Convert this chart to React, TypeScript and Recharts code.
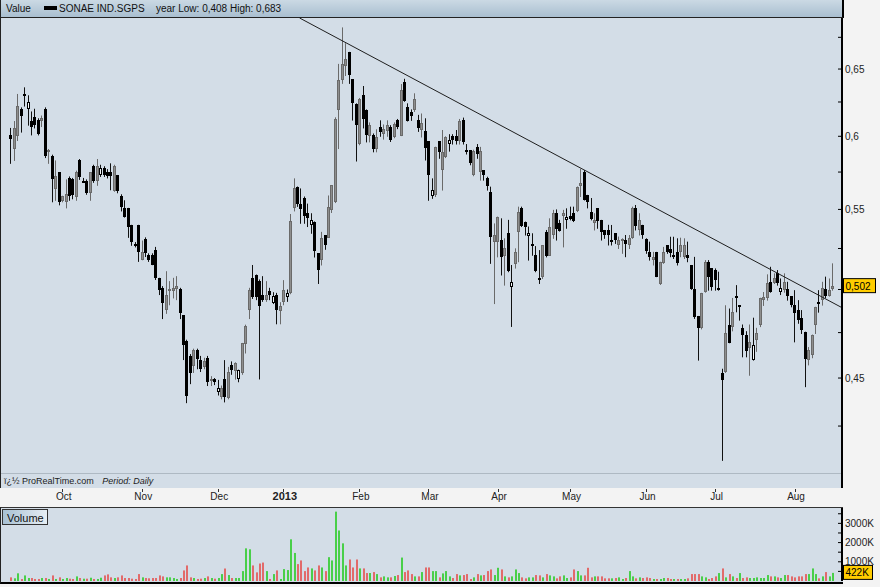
import { Bar, ComposedChart, ReferenceLine, XAxis, YAxis } from "recharts";

// open, high, low, close, volume (thousands)
type Candle = [number, number, number, number, number];

const sep2012: Candle[] = [
  [0.601, 0.606, 0.581, 0.598, 190], [0.591, 0.611, 0.583, 0.606, 140], [0.6, 0.631, 0.597, 0.622, 400],
  [0.62, 0.621, 0.603, 0.615, 100], [0.631, 0.636, 0.622, 0.631, 290], [0.62, 0.63, 0.608, 0.625, 155],
  [0.611, 0.618, 0.601, 0.607, 155], [0.614, 0.62, 0.606, 0.608, 105], [0.612, 0.613, 0.601, 0.602, 105],
  [0.611, 0.615, 0.607, 0.613, 155], [0.62, 0.621, 0.585, 0.586, 155], [0.589, 0.591, 0.581, 0.59, 105],
  [0.586, 0.587, 0.555, 0.57, 290], [0.563, 0.583, 0.556, 0.572, 105], [0.575, 0.575, 0.553, 0.555, 190],
];
const oct2012: Candle[] = [
  [0.556, 0.559, 0.555, 0.559, 105], [0.555, 0.57, 0.551, 0.56, 155], [0.571, 0.572, 0.556, 0.559, 120],
  [0.57, 0.571, 0.557, 0.559, 105], [0.558, 0.576, 0.556, 0.575, 240], [0.583, 0.584, 0.57, 0.571, 155],
  [0.569, 0.571, 0.568, 0.569, 120], [0.569, 0.57, 0.56, 0.561, 120], [0.561, 0.575, 0.556, 0.575, 170],
  [0.579, 0.58, 0.568, 0.569, 105], [0.569, 0.584, 0.566, 0.579, 105], [0.573, 0.58, 0.572, 0.578, 170],
  [0.578, 0.579, 0.572, 0.573, 290], [0.575, 0.577, 0.571, 0.572, 345], [0.575, 0.581, 0.563, 0.572, 190],
  [0.562, 0.58, 0.562, 0.579, 155], [0.573, 0.573, 0.561, 0.562, 190], [0.559, 0.56, 0.549, 0.552, 290],
  [0.551, 0.556, 0.545, 0.545, 155], [0.551, 0.551, 0.532, 0.539, 155], [0.54, 0.54, 0.527, 0.529, 120],
  [0.528, 0.529, 0.526, 0.527, 105], [0.54, 0.54, 0.517, 0.523, 360],
];
const nov2012: Candle[] = [
  [0.518, 0.53, 0.518, 0.523, 190], [0.531, 0.532, 0.52, 0.522, 155], [0.521, 0.522, 0.517, 0.518, 140],
  [0.521, 0.522, 0.515, 0.515, 155], [0.524, 0.526, 0.506, 0.507, 155], [0.507, 0.507, 0.497, 0.5, 290],
  [0.501, 0.502, 0.483, 0.492, 240], [0.488, 0.511, 0.486, 0.497, 190], [0.4995, 0.505, 0.491, 0.5, 190],
  [0.499, 0.507, 0.495, 0.501, 155], [0.5, 0.508, 0.494, 0.502, 105], [0.5, 0.501, 0.483, 0.486, 155],
  [0.485, 0.485, 0.46, 0.468, 550], [0.47, 0.471, 0.437, 0.44, 810], [0.462, 0.463, 0.447, 0.453, 190],
  [0.456, 0.466, 0.453, 0.465, 155], [0.465, 0.466, 0.455, 0.46, 105], [0.46, 0.462, 0.4535, 0.455, 120],
  [0.456, 0.461, 0.455, 0.459, 155], [0.461, 0.462, 0.446, 0.448, 240], [0.4485, 0.451, 0.446, 0.4495, 155],
  [0.4495, 0.45, 0.4465, 0.448, 120],
];
const dec2012: Candle[] = [
  [0.4425, 0.449, 0.441, 0.4445, 155], [0.44, 0.446, 0.439, 0.4445, 360], [0.4497, 0.4597, 0.4374, 0.4401, 650],
  [0.4394, 0.456, 0.439, 0.4534, 310], [0.457, 0.459, 0.452, 0.4543, 155], [0.4534, 0.4585, 0.4494, 0.458, 155],
  [0.4497, 0.4545, 0.448, 0.4543, 155], [0.4525, 0.4692, 0.452, 0.469, 515], [0.469, 0.4795, 0.4636, 0.479, 1700],
  [0.4879, 0.501, 0.483, 0.4996, 1650], [0.5067, 0.5148, 0.4947, 0.4951, 810], [0.509, 0.509, 0.494, 0.496, 450],
  [0.505, 0.506, 0.4495, 0.49, 910], [0.497, 0.508, 0.493, 0.494, 960], [0.4935, 0.505, 0.493, 0.4966, 515],
  [0.499, 0.501, 0.494, 0.4967, 105], [0.492, 0.4984, 0.4917, 0.496, 360], [0.497, 0.498, 0.48, 0.488, 550],
  [0.4875, 0.4925, 0.48, 0.4905, 105],
];
const jan2013: Candle[] = [
  [0.4927, 0.5056, 0.491, 0.4996, 620], [0.4951, 0.5, 0.493, 0.4977, 570], [0.4977, 0.547, 0.4975, 0.5422, 2170],
  [0.5508, 0.5707, 0.549, 0.5639, 1460], [0.565, 0.5652, 0.552, 0.554, 880], [0.5538, 0.5639, 0.541, 0.5508, 1070],
  [0.5573, 0.5585, 0.541, 0.5453, 515], [0.5475, 0.5538, 0.5389, 0.5442, 705], [0.54, 0.5475, 0.5346, 0.5432, 655],
  [0.5421, 0.5422, 0.5197, 0.524, 550], [0.522, 0.522, 0.5036, 0.5117, 810], [0.5178, 0.5355, 0.5148, 0.5314, 705],
  [0.5335, 0.5335, 0.5245, 0.5272, 515], [0.532, 0.5592, 0.532, 0.5518, 1240], [0.5496, 0.5661, 0.548, 0.5661, 1070],
  [0.5551, 0.6137, 0.5545, 0.6128, 3610], [0.6188, 0.654, 0.5913, 0.6416, 2630], [0.6416, 0.683, 0.639, 0.6539, 1960],
  [0.6527, 0.6703, 0.645, 0.658, 810], [0.6634, 0.6634, 0.639, 0.6454, 1120], [0.642, 0.642, 0.6117, 0.6238, 705],
  [0.6238, 0.624, 0.5826, 0.6085, 1120],
];
const feb2013: Candle[] = [
  [0.594, 0.628, 0.594, 0.627, 655], [0.63, 0.637, 0.606, 0.612, 655], [0.619, 0.6195, 0.596, 0.601, 415],
  [0.6, 0.61, 0.596, 0.608, 415], [0.601, 0.602, 0.589, 0.591, 465], [0.591, 0.605, 0.589, 0.5995, 360],
  [0.607, 0.6115, 0.6, 0.6035, 190], [0.6015, 0.6085, 0.598, 0.605, 240], [0.6035, 0.6115, 0.6, 0.608, 190],
  [0.607, 0.608, 0.5963, 0.5975, 190], [0.6, 0.61, 0.599, 0.609, 260], [0.6115, 0.6125, 0.6055, 0.6065, 310],
  [0.6005, 0.6385, 0.6005, 0.6343, 1220], [0.64, 0.6425, 0.6255, 0.6255, 465], [0.6215, 0.624, 0.611, 0.611, 550],
  [0.6175, 0.6195, 0.6115, 0.6145, 360], [0.6195, 0.6315, 0.618, 0.6275, 240], [0.612, 0.6155, 0.6035, 0.6065, 240],
  [0.6045, 0.6165, 0.5995, 0.6095, 465], [0.604, 0.613, 0.5833, 0.5917, 705],
];
const mar2013: Candle[] = [
  [0.5965, 0.5965, 0.556, 0.5729, 705], [0.5585, 0.5707, 0.5573, 0.5628, 515], [0.5595, 0.5926, 0.5585, 0.5926, 515],
  [0.5965, 0.5965, 0.5845, 0.589, 190], [0.5764, 0.6045, 0.5628, 0.589, 396], [0.5856, 0.6, 0.585, 0.5995, 516],
  [0.5946, 0.6015, 0.5895, 0.5973, 241], [0.6, 0.6015, 0.5945, 0.597, 155], [0.6, 0.6045, 0.5945, 0.5961, 361],
  [0.5961, 0.6125, 0.5945, 0.6108, 292], [0.612, 0.6135, 0.5945, 0.5961, 310], [0.5905, 0.5945, 0.5875, 0.5895, 361],
  [0.5903, 0.5903, 0.58, 0.5812, 103], [0.573, 0.5905, 0.5725, 0.5895, 189], [0.5926, 0.5945, 0.5845, 0.5879, 361],
  [0.5752, 0.5925, 0.5695, 0.5895, 292], [0.5764, 0.5764, 0.5695, 0.573, 310], [0.5707, 0.5718, 0.5628, 0.565, 516],
  [0.5617, 0.5651, 0.5158, 0.5324, 602], [0.5292, 0.5409, 0.4917, 0.5335, 310],
];
const apr2013: Candle[] = [
  [0.5292, 0.5453, 0.5198, 0.5453, 688], [0.5303, 0.5442, 0.5087, 0.5199, 602], [0.52, 0.5314, 0.5026, 0.5251, 241],
  [0.5346, 0.5432, 0.5107, 0.5107, 189], [0.5016, 0.5148, 0.4785, 0.5046, 241], [0.5158, 0.5251, 0.5129, 0.523, 602],
  [0.5356, 0.5518, 0.5168, 0.5486, 413], [0.5507, 0.5518, 0.5389, 0.5389, 189], [0.5421, 0.5421, 0.5335, 0.5389, 138],
  [0.5324, 0.5389, 0.5178, 0.5346, 189], [0.527, 0.5346, 0.5208, 0.5277, 189], [0.5208, 0.5265, 0.5107, 0.5107, 310],
  [0.507, 0.524, 0.5036, 0.5066, 292], [0.5077, 0.5271, 0.5066, 0.5271, 189], [0.5356, 0.5367, 0.5198, 0.5208, 361],
  [0.5208, 0.5442, 0.5208, 0.5389, 292], [0.5335, 0.5497, 0.5314, 0.5475, 241], [0.5475, 0.55, 0.5303, 0.537, 138],
  [0.541, 0.5432, 0.536, 0.536, 241], [0.5453, 0.5497, 0.526, 0.5475, 292], [0.5432, 0.5507, 0.5378, 0.5453, 155],
];
const may2013: Candle[] = [
  [0.546, 0.5518, 0.5432, 0.544, 189], [0.5475, 0.5518, 0.5421, 0.5421, 602], [0.5496, 0.5652, 0.5486, 0.5652, 516],
  [0.5652, 0.5772, 0.5585, 0.5675, 292], [0.5752, 0.5764, 0.5562, 0.5562, 292], [0.5596, 0.5596, 0.551, 0.5549, 688],
  [0.548, 0.5575, 0.5432, 0.5432, 189], [0.5411, 0.5475, 0.5367, 0.5432, 241], [0.5507, 0.5507, 0.5378, 0.5421, 241],
  [0.5432, 0.5432, 0.5303, 0.5357, 241], [0.5367, 0.5367, 0.5314, 0.5335, 138], [0.5367, 0.54, 0.5272, 0.5335, 138],
  [0.5296, 0.5399, 0.5272, 0.5303, 138], [0.5346, 0.5346, 0.5282, 0.5303, 155], [0.5272, 0.5325, 0.525, 0.5303, 189],
  [0.5296, 0.5314, 0.522, 0.531, 103], [0.5303, 0.5335, 0.5199, 0.528, 155], [0.5272, 0.5335, 0.525, 0.5314, 516],
  [0.5314, 0.5518, 0.5314, 0.5507, 241], [0.5507, 0.5529, 0.5367, 0.5389, 138], [0.5367, 0.5475, 0.5335, 0.5432, 189],
  [0.54, 0.54, 0.5314, 0.5335, 155],
];
const jun2013: Candle[] = [
  [0.5307, 0.5314, 0.522, 0.5229, 189], [0.5229, 0.5293, 0.5178, 0.5198, 155], [0.5178, 0.5229, 0.5148, 0.5198, 103],
  [0.5229, 0.5229, 0.5077, 0.5077, 103], [0.5036, 0.5168, 0.503, 0.5168, 103], [0.5158, 0.526, 0.5158, 0.5229, 155],
  [0.527, 0.527, 0.522, 0.5229, 155], [0.5244, 0.5324, 0.5199, 0.5218, 103], [0.5198, 0.5324, 0.5188, 0.5208, 103],
  [0.5229, 0.5314, 0.5148, 0.5158, 103], [0.5229, 0.5318, 0.5199, 0.527, 103], [0.5198, 0.5314, 0.5188, 0.527, 103],
  [0.5208, 0.5293, 0.5168, 0.5188, 138], [0.5148, 0.5148, 0.5001, 0.5001, 361], [0.5001, 0.5198, 0.4831, 0.4838, 361],
  [0.4845, 0.4845, 0.4597, 0.4778, 361], [0.4776, 0.498, 0.4771, 0.498, 241], [0.4984, 0.5178, 0.4984, 0.5168, 189],
  [0.5168, 0.5178, 0.4996, 0.5077, 103], [0.5127, 0.5127, 0.4996, 0.501, 155],
];
const jul2013: Candle[] = [
  [0.5117, 0.5127, 0.4996, 0.5056, 241], [0.5003, 0.5107, 0.4996, 0.501, 413], [0.4528, 0.455, 0.408, 0.449, 654],
  [0.453, 0.4907, 0.453, 0.4747, 189], [0.4792, 0.4888, 0.4693, 0.4693, 361], [0.4784, 0.495, 0.476, 0.487, 241],
  [0.4962, 0.5026, 0.4869, 0.4948, 155], [0.4898, 0.4908, 0.4821, 0.4908, 413], [0.4777, 0.4796, 0.4615, 0.4739, 155],
  [0.4739, 0.4758, 0.4615, 0.4652, 189], [0.4665, 0.4796, 0.4515, 0.4698, 155], [0.4597, 0.4835, 0.4597, 0.4679, 155],
  [0.4708, 0.4777, 0.4645, 0.4745, 189], [0.4792, 0.4951, 0.4784, 0.4947, 155], [0.4937, 0.4985, 0.4906, 0.4955, 155],
  [0.4947, 0.5091, 0.4937, 0.5036, 310], [0.5046, 0.5137, 0.4984, 0.4984, 241], [0.5036, 0.5097, 0.5036, 0.5066, 241],
  [0.5097, 0.5117, 0.5026, 0.5036, 189], [0.4984, 0.5066, 0.497, 0.501, 155], [0.4996, 0.5097, 0.4984, 0.5046, 310],
  [0.5001, 0.5046, 0.4937, 0.4961, 310], [0.4961, 0.4961, 0.4898, 0.4908, 241],
];
const aug2013: Candle[] = [
  [0.4908, 0.4996, 0.4698, 0.4859, 189], [0.4879, 0.4937, 0.4803, 0.4821, 241], [0.4831, 0.4879, 0.4745, 0.4764, 241],
  [0.4755, 0.4755, 0.4454, 0.4606, 361], [0.4597, 0.4669, 0.4571, 0.4652, 361], [0.4625, 0.4739, 0.461, 0.4739, 654],
  [0.4792, 0.4898, 0.4745, 0.4898, 361], [0.4927, 0.4996, 0.4867, 0.4917, 138], [0.4937, 0.5046, 0.4908, 0.501, 241],
  [0.5001, 0.5077, 0.4951, 0.4961, 464], [0.4961, 0.5066, 0.4961, 0.4996, 241], [0.5003, 0.5158, 0.4996, 0.502, 422],
];

const months = [sep2012, oct2012, nov2012, dec2012, jan2013, feb2013, mar2013, apr2013, may2013, jun2013, jul2013, aug2013];
const monthLabels = ["Sep", "Oct", "Nov", "Dec", "2013", "Feb", "Mar", "Apr", "May", "Jun", "Jul", "Aug"];

const priceTicks = [0.425, 0.45, 0.475, 0.5, 0.525, 0.55, 0.575, 0.6, 0.625, 0.65, 0.675];
const priceLabels = [0.45, 0.55, 0.6, 0.65];
const volumeTicks = [500, 1000, 1500, 2000, 2500, 3000, 3500];
const volumeLabels = [1000, 2000, 3000];

// hand-drawn resistance line: [index, price] at both ends
const trendStart = [83.56, 0.6907];
const trendEnd = [240.6, 0.4893];

const X_DOMAIN: [number, number] = [-2.9, 240.6];
const PRICE_DOMAIN: [number, number] = [0.3948, 0.6907];
const VOL_DOMAIN: [number, number] = [0, 3800];
const PLOT_BOTTOM = 488;

const monthStarts: number[] = [];
let count = 0;
months.forEach((m) => {
  monthStarts.push(count);
  count += m.length;
});
const tickIdx = monthStarts.slice(1);

const candles = months.flat();
const rows = candles.map(([o, h, l, c, v], i) => {
  const prev = i > 0 ? candles[i - 1][3] : o;
  const kind = c < o ? "down" : c > o && c >= prev ? "up" : "hollow";
  return { i, range: [l, h], body: [Math.min(o, c), Math.max(o, c)], v, kind, rising: c >= o };
});

const lastClose = candles[candles.length - 1][3];
const lastVolume = candles[candles.length - 1][4];
const yearLow = Math.min(...candles.map((d) => d[2]));
const yearHigh = Math.max(...candles.map((d) => d[1]));

const comma = (v: number, digits?: number) =>
  (digits === undefined ? String(v) : v.toFixed(digits)).replace(".", ",");

const PLOT_BG = "#d3dde7";
const FONT = '"Liberation Sans", Arial, sans-serif';

const bodyStyle: Record<string, { fill: string; stroke: string }> = {
  up: { fill: "#8e8e8e", stroke: "#6a6a6a" },
  down: { fill: "#000", stroke: "#000" },
  hollow: { fill: "#f4f6f8", stroke: "#000" },
};

const snap = (x: number) => Math.round(x - 0.5) + 0.5;

function Wick(props: any) {
  const { x, y, width, height, payload } = props;
  const cx = snap(x + width / 2);
  const top = Math.min(y, y + height);
  const bottom = Math.max(y, y + height);
  return (
    <line x1={cx} x2={cx} y1={top} y2={bottom + 0.5} stroke={payload.kind === "up" ? "#6a6a6a" : "#111"} strokeWidth={1} />
  );
}

function Body(props: any) {
  const { x, y, width, height, payload } = props;
  const cx = snap(x + width / 2);
  const top = Math.round(Math.min(y, y + height));
  const h = Math.max(Math.round(Math.abs(height)) - 1, 1);
  const s = bodyStyle[payload.kind];
  return <rect x={cx - 1} y={top + 0.5} width={2} height={h} fill={s.fill} stroke={s.stroke} strokeWidth={1} />;
}

function VolBar(props: any) {
  const { x, y, width, height, payload } = props;
  if (!height) return null;
  const left = Math.round(x + width / 2) - 1;
  return <rect x={left} y={y} width={2} height={height} fill={payload.rising ? "#49cf49" : "#e26a6a"} />;
}

function MonthTick({ x, payload }: any) {
  const label = monthLabels[monthStarts.indexOf(payload.value)];
  const bold = label === "2013";
  return (
    <g>
      <line x1={snap(x)} x2={snap(x)} y1={PLOT_BOTTOM + 1} y2={PLOT_BOTTOM + 4} stroke="#333" />
      <text x={x + 1} y={PLOT_BOTTOM + 12} textAnchor="middle" fontSize={bold ? 11 : 10} fontWeight={bold ? 700 : 400} fill="#222">
        {label}
      </text>
    </g>
  );
}

function PriceTick({ x, y, payload }: any) {
  const v = payload.value;
  return (
    <g>
      <line x1={x - 4} x2={x + 1} y1={y} y2={y} stroke="#000" />
      {priceLabels.includes(v) && (
        <text x={x + 3} y={y + 3.5} fontSize={10} fill="#222">
          {comma(v)}
        </text>
      )}
    </g>
  );
}

function VolumeTick({ x, y, payload }: any) {
  const v = payload.value;
  return (
    <g>
      <line x1={x - 4} x2={x + 1} y1={y} y2={y} stroke="#000" />
      {volumeLabels.includes(v) && (
        <text x={x + 3} y={y + 3.5} fontSize={10} fill="#222">
          {v}K
        </text>
      )}
    </g>
  );
}

function Tag({ viewBox, text, w }: any) {
  const x = viewBox.x + viewBox.width + 1;
  const y = viewBox.y;
  return (
    <g>
      <rect x={x + 0.5} y={y - 7.5} width={w} height={14} fill="#ffcc00" stroke="#000" />
      <text x={x + 2.5} y={y + 3.5} fontSize={10} fill="#000">
        {text}
      </text>
    </g>
  );
}

export default function App() {
  return (
    <div style={{ position: "relative", width: 880, height: 587, background: "#f3f3f3", fontFamily: FONT, overflow: "hidden" }}>
      <style>{"body{margin:0}"}</style>

      {/* price panel */}
      <div style={{ position: "absolute", left: 0, top: 18, width: 842, height: 470, background: PLOT_BG, borderLeft: "1px solid #222" }} />
      <div style={{ position: "absolute", left: 1, top: 473, width: 841, height: 0, borderTop: "1px solid #aeb9c3" }} />
      <div style={{ position: "absolute", left: 4, top: 476, fontSize: 9, color: "#222", whiteSpace: "nowrap" }}>
        ï¿½ ProRealTime.com <span style={{ fontStyle: "italic", marginLeft: 6 }}>Period: Daily</span>
      </div>
      <div
        style={{
          position: "absolute",
          left: 0,
          top: 0,
          width: 841,
          height: 17,
          background: "linear-gradient(#cbd9e4, #a9bfd0)",
          borderBottom: "1px solid #222",
          borderLeft: "1px solid #222",
          borderRight: "2px solid #000",
          fontSize: 10,
          color: "#111",
          whiteSpace: "nowrap",
        }}
      >
        <span style={{ position: "absolute", left: 5, top: 3 }}>Value</span>
        <span style={{ position: "absolute", left: 43, top: 6, width: 13, height: 4, background: "#000" }} />
        <span style={{ position: "absolute", left: 58, top: 3 }}>SONAE IND.SGPS</span>
        <span style={{ position: "absolute", left: 155, top: 3 }}>
          year Low: {comma(yearLow, 3)} High: {comma(yearHigh, 3)}
        </span>
      </div>

      <div style={{ position: "absolute", left: 0, top: 0 }}>
        <ComposedChart width={880} height={505} data={rows} margin={{ top: 18, right: 0, bottom: 0, left: 1 }}>
          <XAxis
            xAxisId="wick"
            dataKey="i"
            type="number"
            domain={X_DOMAIN}
            allowDataOverflow
            ticks={tickIdx}
            interval={0}
            height={17}
            tickSize={0}
            tickMargin={0}
            axisLine={{ stroke: "#000", strokeWidth: 2 }}
            tickLine={false}
            tick={<MonthTick />}
          />
          <XAxis xAxisId="body" dataKey="i" type="number" domain={X_DOMAIN} allowDataOverflow hide />
          <YAxis
            orientation="right"
            scale="log"
            domain={PRICE_DOMAIN}
            allowDataOverflow
            ticks={priceTicks}
            interval={0}
            width={38}
            tickSize={0}
            tickMargin={0}
            axisLine={{ stroke: "#000", strokeWidth: 2 }}
            tickLine={false}
            tick={<PriceTick />}
          />
          <Bar xAxisId="wick" dataKey="range" barSize={1} shape={<Wick />} isAnimationActive={false} />
          <Bar xAxisId="body" dataKey="body" barSize={3} shape={<Body />} isAnimationActive={false} />
          <ReferenceLine
            xAxisId="wick"
            segment={[
              { x: trendStart[0], y: trendStart[1] },
              { x: trendEnd[0], y: trendEnd[1] },
            ]}
            stroke="#1e1e1e"
            strokeWidth={1}
            ifOverflow="visible"
          />
          <ReferenceLine xAxisId="wick" y={lastClose} stroke="none" label={<Tag text={comma(lastClose, 3)} w={32} />} />
        </ComposedChart>
      </div>

      {/* volume panel */}
      <div style={{ position: "absolute", left: 0, top: 507, width: 842, height: 74, background: PLOT_BG, borderLeft: "1px solid #222", borderTop: "1px solid #333", borderBottom: "2px solid #000" }} />
      <div
        style={{
          position: "absolute",
          left: 2,
          top: 509,
          width: 46,
          height: 16,
          background: "linear-gradient(90deg, #a7c0d3, #e6eef4)",
          border: "1px solid #333",
          fontSize: 11,
          color: "#111",
          lineHeight: "16px",
          paddingLeft: 4,
          boxSizing: "border-box",
        }}
      >
        Volume
      </div>
      <div style={{ position: "absolute", left: 0, top: 505 }}>
        <ComposedChart width={880} height={82} data={rows} margin={{ top: 3, right: 0, bottom: 6, left: 1 }}>
          <XAxis dataKey="i" type="number" domain={X_DOMAIN} allowDataOverflow hide />
          <YAxis
            orientation="right"
            domain={VOL_DOMAIN}
            allowDataOverflow
            ticks={volumeTicks}
            interval={0}
            width={38}
            tickSize={0}
            tickMargin={0}
            axisLine={{ stroke: "#000", strokeWidth: 2 }}
            tickLine={false}
            tick={<VolumeTick />}
          />
          <Bar dataKey="v" barSize={2} shape={<VolBar />} isAnimationActive={false} />
          <ReferenceLine y={lastVolume} stroke="none" label={<Tag text={`${lastVolume}K`} w={29} />} />
        </ComposedChart>
      </div>
    </div>
  );
}
